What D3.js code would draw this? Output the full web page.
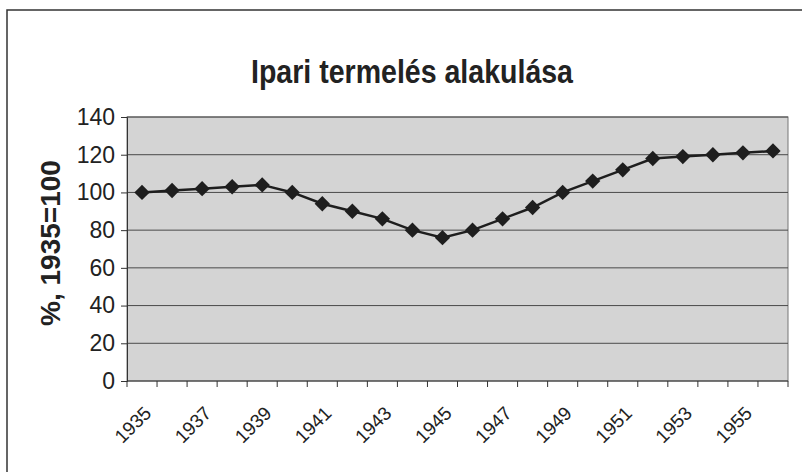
<!DOCTYPE html>
<html>
<head>
<meta charset="utf-8">
<script src="https://cdn.jsdelivr.net/npm/d3@7"></script>
<style>
    body { margin: 0; background: #fff; }
    svg { font-family: "Liberation Sans", Arial, sans-serif; }
</style>
</head>
<body>
<svg id="chart"></svg>
<script>
// data
const years = [1935, 1936, 1937, 1938, 1939, 1940, 1941, 1942, 1943, 1944, 1945,
    1946, 1947, 1948, 1949, 1950, 1951, 1952, 1953, 1954, 1955, 1956];
const values = [100, 101, 102, 103, 104, 100, 94, 90, 86, 80, 76,
    80, 86, 92, 100, 106, 112, 118, 119, 120, 121, 122];
const yTicks = [0, 20, 40, 60, 80, 100, 120, 140];
const xLabels = [1935, 1937, 1939, 1941, 1943, 1945, 1947, 1949, 1951, 1953, 1955];

const W = 802, H = 472;
const margin = { top: 117, right: 14, bottom: 91, left: 127 },
    width = W - margin.left - margin.right,
    height = H - margin.top - margin.bottom;

const root = d3.select("#chart").attr("width", W).attr("height", H);

// outer frame (only left and top edge visible in the scan)
root.append("rect")
    .attr("x", 7).attr("y", 10)
    .attr("width", 820).attr("height", 500)
    .attr("fill", "none")
    .attr("stroke", "#333")
    .attr("stroke-width", 1.5);

root.append("text")
    .attr("x", 412).attr("y", 83)
    .attr("text-anchor", "middle")
    .attr("font-size", "34px")
    .attr("font-weight", "bold")
    .attr("textLength", 322)
    .attr("lengthAdjust", "spacingAndGlyphs")
    .attr("fill", "#222")
    .text("Ipari termelés alakulása");

const svg = root.append("g")
    .attr("transform", "translate(" + margin.left + "," + margin.top + ")");

let x = d3.scaleBand()
    .domain(years)
    .range([0, width]);

let y = d3.scaleLinear()
    .domain([0, 140])
    .range([height, 0]);

// plot area
svg.append("rect")
    .attr("width", width)
    .attr("height", height)
    .attr("fill", "#d4d4d4")
    .attr("stroke", "#777")
    .attr("stroke-width", 1);

// gridlines
svg.selectAll(".grid")
    .data(yTicks.slice(1))
    .enter()
    .append("line")
    .attr("x1", 0).attr("x2", width)
    .attr("y1", d => y(d)).attr("y2", d => y(d))
    .attr("stroke", "#4a4a4a")
    .attr("stroke-width", 1);

// y axis
let yAxis = svg.append("g")
    .call(d3.axisLeft(y).tickValues(yTicks).tickSizeOuter(0).tickSize(6).tickPadding(6));
yAxis.selectAll("text")
    .attr("font-size", "23px")
    .attr("fill", "#222");
yAxis.select(".domain").attr("stroke", "#333");
yAxis.selectAll(".tick line").attr("stroke", "#333");

root.append("text")
    .attr("transform", "translate(60,243) rotate(-90)")
    .attr("text-anchor", "middle")
    .attr("font-size", "28px")
    .attr("font-weight", "bold")
    .attr("fill", "#222")
    .text("%, 1935=100");

// x axis: ticks on category boundaries, labels every other year
let xAxis = svg.append("g")
    .attr("transform", "translate(0," + height + ")");
xAxis.append("line")
    .attr("x1", 0).attr("x2", width)
    .attr("stroke", "#333");
xAxis.selectAll(".xtick")
    .data(years.concat([null]))
    .enter()
    .append("line")
    .attr("x1", (d, i) => i * x.step())
    .attr("x2", (d, i) => i * x.step())
    .attr("y1", 0).attr("y2", 6)
    .attr("stroke", "#333");
xAxis.selectAll(".xlabel")
    .data(xLabels)
    .enter()
    .append("text")
    .attr("transform", d => "translate(" + (x(d) + x.bandwidth() / 2 + 1) + ",24) rotate(-45)")
    .attr("text-anchor", "end")
    .attr("dy", "0.7em")
    .attr("font-size", "19px")
    .attr("fill", "#222")
    .text(d => d);

// line + diamond markers
const line = d3.line()
    .x((d, i) => x(years[i]) + x.bandwidth() / 2)
    .y(d => y(d));

svg.append("path")
    .datum(values)
    .attr("d", line)
    .attr("fill", "none")
    .attr("stroke", "#1e1e1e")
    .attr("stroke-width", 2.5);

svg.selectAll(".marker")
    .data(values)
    .enter()
    .append("path")
    .attr("d", d3.symbol().type(d3.symbolDiamond2).size(150))
    .attr("transform", (d, i) => "translate(" + (x(years[i]) + x.bandwidth() / 2) + "," + y(d) + ")")
    .attr("fill", "#1e1e1e");
</script>
</body>
</html>
